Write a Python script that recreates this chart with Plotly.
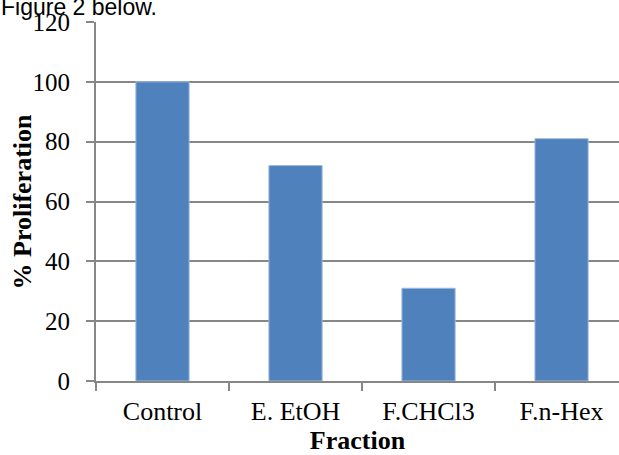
import plotly.graph_objects as go

categories = ["Control", "E. EtOH", "F.CHCl3", "F.n-Hex"]
proliferation = [100, 72, 31, 81]
y_ticks = [0, 20, 40, 60, 80, 100, 120]

grid = "#878787"
serif = "Liberation Serif"

fig = go.Figure()
fig.add_trace(go.Bar(
    x=categories, y=proliferation,
    marker=dict(color="#4F81BD", line=dict(color="#9DB9DF", width=1)),
    width=0.4,
))

fig.update_layout(
    width=619, height=455,
    margin=dict(l=96, r=0, t=22, b=74),
    paper_bgcolor="white", plot_bgcolor="white",
    showlegend=False,
    font=dict(family=serif, size=25, color="black"),
    xaxis=dict(
        range=[-0.5, 3.432],
        showline=True, linecolor=grid, linewidth=2,
        ticks="outside", ticklen=8, tickwidth=2, tickcolor=grid,
        tickson="boundaries", showgrid=False,
        tickfont=dict(family=serif, size=26),
        ticklabelstandoff=6,
        title=dict(text="<b>Fraction</b>", font=dict(family=serif, size=26), standoff=6),
    ),
    yaxis=dict(
        range=[0, 120], tickvals=y_ticks,
        showline=True, linecolor=grid, linewidth=2,
        ticks="outside", ticklen=8, tickwidth=2, tickcolor=grid,
        showgrid=True, gridcolor=grid, gridwidth=2,
        zeroline=False,
        tickfont=dict(family=serif, size=25),
        ticklabelstandoff=11,
    ),
)

# y-axis title placed as a rotated annotation to sit close to the tick labels
fig.add_annotation(
    text="<b>% Proliferation</b>", xref="paper", yref="paper",
    x=-0.1396, y=0.5, xanchor="center", yanchor="middle", textangle=-90,
    showarrow=False, borderpad=0,
    font=dict(family=serif, size=26, color="black"),
)

fig.add_annotation(
    text="Figure 2 below.", xref="paper", yref="paper",
    x=-0.1836, y=1.041, xanchor="left", yanchor="middle",
    showarrow=False, borderpad=0,
    font=dict(family="Liberation Sans", size=23, color="black"),
)

fig.write_html(
    "out.html",
    config={"displayModeBar": False},
    post_script="document.body.style.margin='0';document.documentElement.style.overflow='hidden';",
)
